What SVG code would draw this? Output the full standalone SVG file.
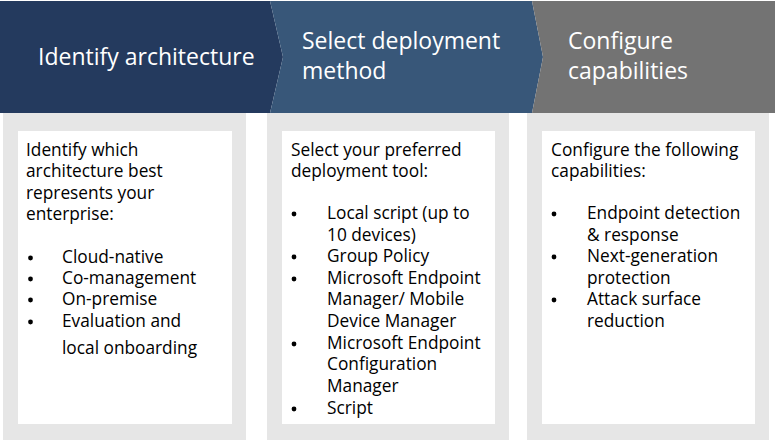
<svg xmlns="http://www.w3.org/2000/svg" width="775" height="441" viewBox="0 0 775 441">
<style>
.hd{font-family:"Open Sans","Noto Sans","DejaVu Sans",sans-serif;font-size:23px;fill:#ffffff}
.bd{font-family:"Open Sans","Noto Sans","DejaVu Sans",sans-serif;font-size:17.3px;fill:#000000}
.panel{fill:#e6e6e6}
.inner{fill:#ffffff}
</style>
<rect x="0" y="0" width="775" height="441" fill="#ffffff"/>
<g id="step1">
<polygon points="0,1 270,1 283,57 270,113 0,113" fill="#243a5e"/>
<text class="hd" x="38" y="65">Identify architecture</text>
<rect class="panel" x="3" y="113" width="243" height="327"/>
<rect class="inner" x="18" y="131" width="214" height="293"/>
<text class="bd" x="26" y="156">Identify which</text>
<text class="bd" x="26" y="177">architecture best</text>
<text class="bd" x="26" y="199">represents your</text>
<text class="bd" x="26" y="220">enterprise:</text>
<g>
<circle cx="30.5" cy="258" r="2.4"/><text class="bd" x="62" y="263">Cloud-native</text>
<circle cx="30.5" cy="279" r="2.4"/><text class="bd" x="62" y="284">Co-management</text>
<circle cx="30.5" cy="300" r="2.4"/><text class="bd" x="62" y="305">On-premise</text>
<circle cx="30.5" cy="322" r="2.4"/><text class="bd" x="62" y="327">Evaluation and</text>
<text class="bd" x="62" y="354">local onboarding</text>
</g>
</g>
<g id="step2">
<polygon points="270,1 532,1 543,57 532,113 270,113 283,57" fill="#385779"/>
<text class="hd" x="302" y="49">Select deployment</text>
<text class="hd" x="302" y="79">method</text>
<rect class="panel" x="267" y="113" width="242" height="327"/>
<rect class="inner" x="282" y="131" width="213" height="293"/>
<text class="bd" x="291" y="156">Select your preferred</text>
<text class="bd" x="291" y="177">deployment tool:</text>
<g>
<circle cx="294" cy="214" r="2.4"/><text class="bd" x="327" y="219">Local script (up to</text>
<text class="bd" x="327" y="241">10 devices)</text>
<circle cx="294" cy="257" r="2.4"/><text class="bd" x="327" y="262">Group Policy</text>
<circle cx="294" cy="279" r="2.4"/><text class="bd" x="327" y="284">Microsoft Endpoint</text>
<text class="bd" x="327" y="305">Manager/ Mobile</text>
<text class="bd" x="327" y="327">Device Manager</text>
<circle cx="294" cy="344" r="2.4"/><text class="bd" x="327" y="349">Microsoft Endpoint</text>
<text class="bd" x="327" y="370">Configuration</text>
<text class="bd" x="327" y="392">Manager</text>
<circle cx="294" cy="409" r="2.4"/><text class="bd" x="327" y="414">Script</text>
</g>
</g>
<g id="step3">
<polygon points="532,1 775,1 775,113 532,113 543,57" fill="#737373"/>
<text class="hd" x="568" y="49">Configure</text>
<text class="hd" x="568" y="79">capabilities</text>
<rect class="panel" x="527" y="113" width="242" height="327"/>
<rect class="inner" x="542" y="131" width="213" height="293"/>
<text class="bd" x="551" y="156">Configure the following</text>
<text class="bd" x="551" y="177">capabilities:</text>
<g>
<circle cx="554" cy="214" r="2.4"/><text class="bd" x="587" y="219">Endpoint detection</text>
<text class="bd" x="587" y="241">&amp; response</text>
<circle cx="554" cy="257" r="2.4"/><text class="bd" x="587" y="262">Next-generation</text>
<text class="bd" x="587" y="284">protection</text>
<circle cx="554" cy="300" r="2.4"/><text class="bd" x="587" y="305">Attack surface</text>
<text class="bd" x="587" y="327">reduction</text>
</g>
</g>
<g id="connectors"></g>
</svg>
